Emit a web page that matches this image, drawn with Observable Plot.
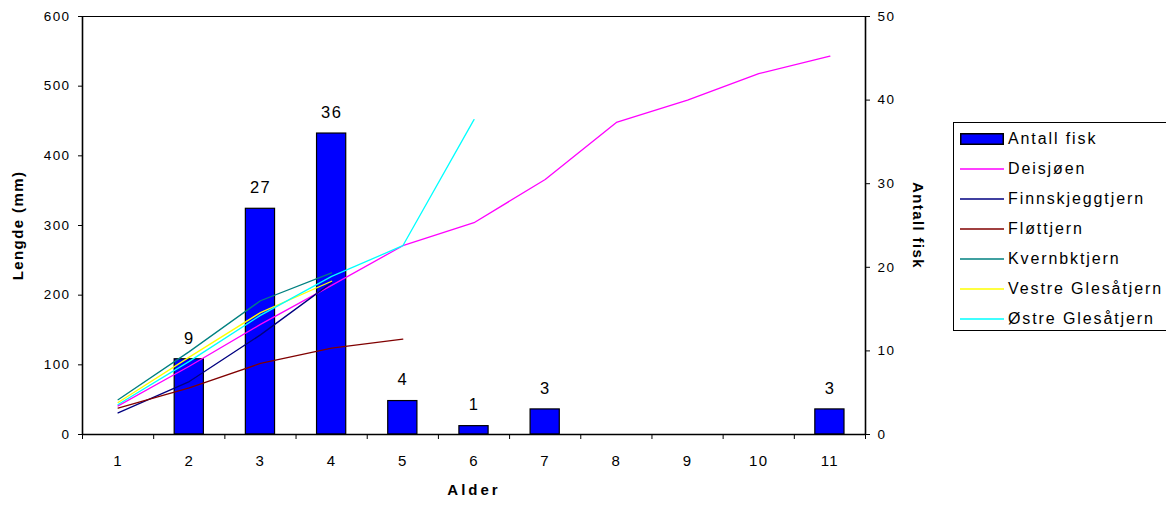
<!DOCTYPE html>
<html>
<head>
<meta charset="utf-8">
<script src="https://cdn.jsdelivr.net/npm/d3@7"></script>
<script src="https://cdn.jsdelivr.net/npm/@observablehq/plot@0.6"></script>
<style>
  html, body { margin: 0; padding: 0; background: #fff; }
  body { width: 1166px; height: 507px; position: relative; overflow: hidden; font-family: "Liberation Sans", Arial, sans-serif; }
  #chart { position: absolute; left: 0; top: 0; }
  #legend { position: absolute; left: 953px; top: 122px; width: 220px; height: 209px; border: 1px solid #000; box-sizing: border-box; background: #fff; }
  .row { position: absolute; left: 6px; height: 20px; display: flex; align-items: center; font-size: 16px; letter-spacing: 1.9px; color: #000; white-space: nowrap; }
  .row svg { margin-right: 4px; flex: none; }
  .lt text { letter-spacing: 1.4px; }
  .wide text { letter-spacing: 3px; }
</style>
</head>
<body>
<div id="chart"></div>
<div id="legend"></div>
<script>
// ---- data ----
const ages = [1, 2, 3, 4, 5, 6, 7, 8, 9, 10, 11];
const antallFisk = [null, 9, 27, 36, 4, 1, 3, null, null, null, 3];
const seriesNames = ["Deisjøen", "Finnskjeggtjern", "Fløttjern", "Kvernbktjern", "Vestre Glesåtjern", "Østre Glesåtjern"];
const seriesColors = ["#FF00FF", "#000080", "#800000", "#008080", "#FFFF00", "#00FFFF"];
const deisjoen = [41, 98, 158, 214, 271, 304, 366, 448, 480, 518, 543];
const finnskjeggtjern = [31, 76, 143, 218];
const flottjern = [38, 67, 102, 124, 137];
const kvernbktjern = [50, 119, 192, 232];
const vestreGlesatjern = [46, 111, 175, 220];
const ostreGlesatjern = [43, 105, 171, 227, 271, 452];
const leftTicks = [0, 100, 200, 300, 400, 500, 600];
const rightTicks = [0, 10, 20, 30, 40, 50];

// ---- derived tables ----
const leftMax = 600, rightMax = 50, k = leftMax / rightMax;
const bars = ages.map((a, i) => ({age: a, n: antallFisk[i]})).filter(d => d.n != null);
const seriesValues = [deisjoen, finnskjeggtjern, flottjern, kvernbktjern, vestreGlesatjern, ostreGlesatjern];
const lines = seriesNames.flatMap((name, s) => seriesValues[s].map((v, i) => ({name, age: ages[i], len: v})));
const halfBar = 0.205;
const boundaries = ages.map(a => a - 0.5).concat([ages[ages.length - 1] + 0.5]);

const font = "Liberation Sans, Arial, sans-serif";

const chart = Plot.plot({
  width: 1166,
  height: 507,
  marginLeft: 82,
  marginRight: 301,
  marginTop: 16,
  marginBottom: 73,
  style: {fontFamily: font, color: "#000", background: "#fff"},
  x: {type: "linear", domain: [0.5, 11.5]},
  y: {domain: [0, leftMax]},
  color: {domain: seriesNames, range: seriesColors},
  marks: [
    Plot.rectY(bars, {x1: d => d.age - halfBar, x2: d => d.age + halfBar, y1: 0, y2: d => d.n * k, fill: "#0000FF", stroke: "#000", strokeWidth: 1.2}),
    Plot.line(lines, {x: "age", y: "len", z: "name", stroke: "name", strokeWidth: 1.3}),
    Plot.text(bars, {x: "age", y: d => d.n * k, text: d => String(d.n), dy: -21, fontSize: 16.5, fill: "#000", className: "lt"}),
    Plot.frame({stroke: "#000", strokeWidth: 1}),
    Plot.ruleY([0], {stroke: "#000", strokeWidth: 1.6}),
    Plot.ruleX([0.5], {stroke: "#000", strokeWidth: 1.6}),
    Plot.ruleX([11.5], {stroke: "#000", strokeWidth: 1.6}),
    Plot.axisY({anchor: "left", ticks: leftTicks, tickSize: 4, tickPadding: 8, fontSize: 13.5, label: null, tickFormat: d => String(d), className: "lt"}),
    Plot.axisY({anchor: "right", ticks: rightTicks.map(t => t * k), tickSize: 4, tickPadding: 8, fontSize: 13.5, label: null, tickFormat: d => String(Math.round(d / k)), className: "lt"}),
    Plot.axisX({ticks: ages, tickSize: 0, tickPadding: 21, fontSize: 15, label: null, tickFormat: d => String(d), className: "lt"}),
    Plot.axisX({ticks: boundaries, tickSize: 5, tickFormat: () => "", label: null}),
    Plot.text(["Lengde (mm)"], {frameAnchor: "left", dx: -64, rotate: -90, textAnchor: "middle", fontSize: 15, fontWeight: "bold", fill: "#000", className: "lt"}),
    Plot.text(["Antall fisk"], {frameAnchor: "right", dx: 52, rotate: 90, textAnchor: "middle", fontSize: 15, fontWeight: "bold", fill: "#000", className: "lt"}),
    Plot.text(["Alder"], {frameAnchor: "bottom", dy: 60, textAnchor: "middle", fontSize: 15, fontWeight: "bold", fill: "#000", className: "wide"})
  ]
});
document.getElementById("chart").appendChild(chart);

// ---- legend ----
const legend = document.getElementById("legend");
const entries = [{name: "Antall fisk", bar: true}].concat(seriesNames.map((n, i) => ({name: n, color: seriesColors[i]})));
entries.forEach((e, i) => {
  const row = document.createElement("div");
  row.className = "row";
  row.style.top = (6 + i * 30) + "px";
  const sw = e.bar
    ? `<svg width="44" height="12"><rect x="0.75" y="0.75" width="42.5" height="10.5" fill="#0000FF" stroke="#000" stroke-width="1.5"/></svg>`
    : `<svg width="44" height="12"><line x1="0" x2="44" y1="6" y2="6" stroke="${e.color}" stroke-width="1.3"/></svg>`;
  row.innerHTML = sw + `<span>${e.name}</span>`;
  legend.appendChild(row);
});
</script>
</body>
</html>
